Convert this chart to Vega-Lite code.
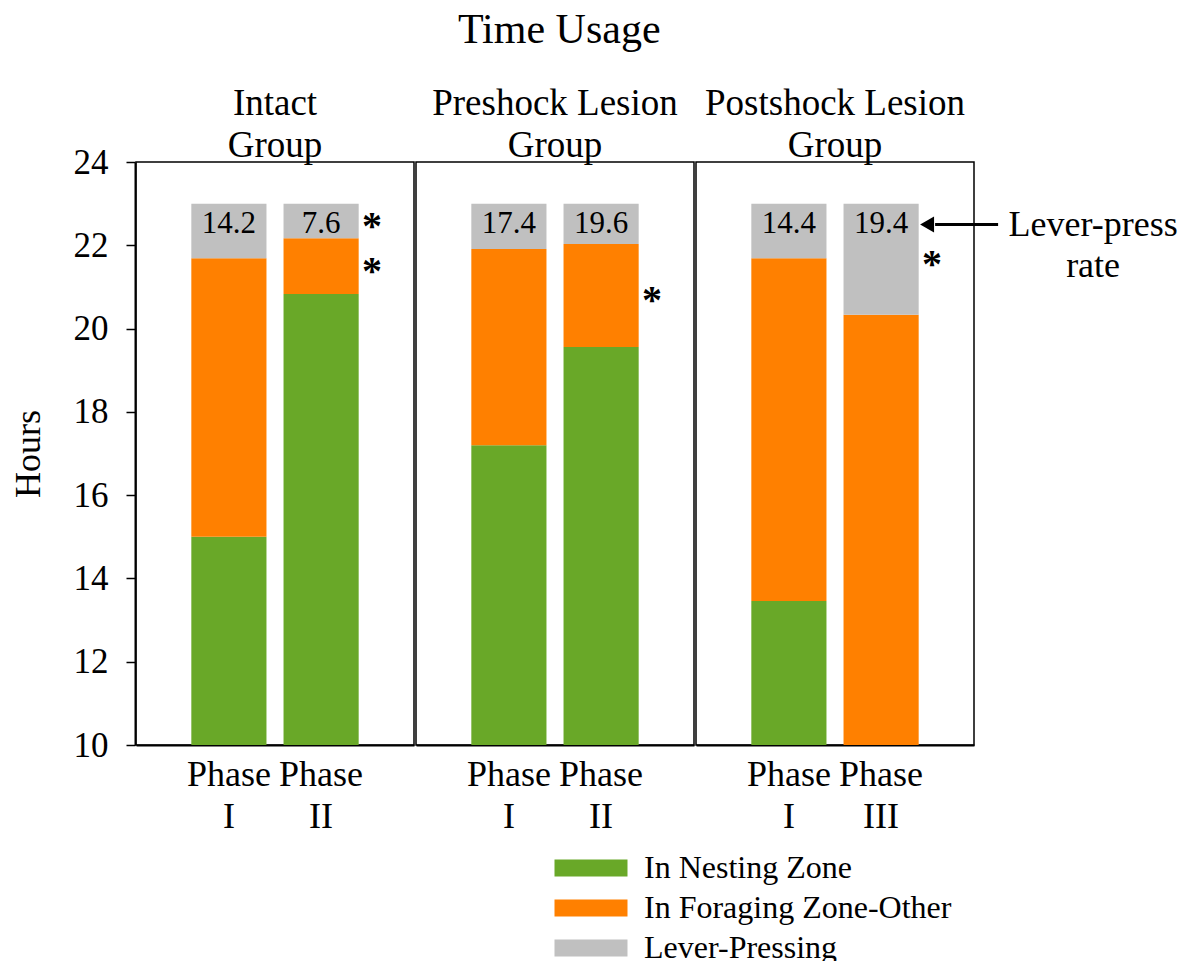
{
  "$schema": "https://vega.github.io/schema/vega-lite/v6.json",
  "padding": {"left": 10, "top": 9, "right": 2, "bottom": 0},
  "title": {
    "text": "Time Usage",
    "font": "Liberation Serif",
    "fontSize": 42,
    "fontWeight": "normal",
    "color": "black",
    "anchor": "middle",
    "offset": 33,
    "dx": -35
  },
  "data": {
    "values": [
      {"group": "Intact Group", "phase": "Phase I", "zone": "In Nesting Zone", "ord": 1, "hours": 15.0},
      {"group": "Intact Group", "phase": "Phase I", "zone": "In Foraging Zone-Other", "ord": 2, "hours": 6.69},
      {"group": "Intact Group", "phase": "Phase I", "zone": "Lever-Pressing", "ord": 3, "hours": 1.31, "rate": "14.2"},
      {"group": "Intact Group", "phase": "Phase II", "zone": "In Nesting Zone", "ord": 1, "hours": 20.83},
      {"group": "Intact Group", "phase": "Phase II", "zone": "In Foraging Zone-Other", "ord": 2, "hours": 1.34, "sig": "*"},
      {"group": "Intact Group", "phase": "Phase II", "zone": "Lever-Pressing", "ord": 3, "hours": 0.83, "rate": "7.6", "sig": "*"},
      {"group": "Preshock Lesion Group", "phase": "Phase I", "zone": "In Nesting Zone", "ord": 1, "hours": 17.2},
      {"group": "Preshock Lesion Group", "phase": "Phase I", "zone": "In Foraging Zone-Other", "ord": 2, "hours": 4.71},
      {"group": "Preshock Lesion Group", "phase": "Phase I", "zone": "Lever-Pressing", "ord": 3, "hours": 1.09, "rate": "17.4"},
      {"group": "Preshock Lesion Group", "phase": "Phase II", "zone": "In Nesting Zone", "ord": 1, "hours": 19.56},
      {"group": "Preshock Lesion Group", "phase": "Phase II", "zone": "In Foraging Zone-Other", "ord": 2, "hours": 2.47, "sig": "*"},
      {"group": "Preshock Lesion Group", "phase": "Phase II", "zone": "Lever-Pressing", "ord": 3, "hours": 0.97, "rate": "19.6"},
      {"group": "Postshock Lesion Group", "phase": "Phase I", "zone": "In Nesting Zone", "ord": 1, "hours": 13.46},
      {"group": "Postshock Lesion Group", "phase": "Phase I", "zone": "In Foraging Zone-Other", "ord": 2, "hours": 8.23},
      {"group": "Postshock Lesion Group", "phase": "Phase I", "zone": "Lever-Pressing", "ord": 3, "hours": 1.31, "rate": "14.4"},
      {"group": "Postshock Lesion Group", "phase": "Phase III", "zone": "In Nesting Zone", "ord": 1, "hours": 8.0},
      {"group": "Postshock Lesion Group", "phase": "Phase III", "zone": "In Foraging Zone-Other", "ord": 2, "hours": 12.33},
      {"group": "Postshock Lesion Group", "phase": "Phase III", "zone": "Lever-Pressing", "ord": 3, "hours": 2.67, "rate": "19.4", "sig": "*", "note": "Lever-press\nrate"}
    ]
  },
  "transform": [
    {"stack": "hours", "groupby": ["group", "phase"], "sort": [{"field": "ord"}], "as": ["lo", "hi"]},
    {"calculate": "(datum.lo + datum.hi) / 2", "as": "mid"}
  ],
  "facet": {
    "column": {
      "field": "group",
      "sort": ["Intact Group", "Preshock Lesion Group", "Postshock Lesion Group"],
      "title": null,
      "header": {
        "labelExpr": "[slice(datum.value, 0, -6), 'Group']",
        "labelFont": "Liberation Serif",
        "labelFontSize": 37,
        "labelLineHeight": 42,
        "labelColor": "black",
        "labelBaseline": "bottom",
        "labelPadding": -41
      }
    }
  },
  "spacing": 0,
  "resolve": {"scale": {"x": "independent"}},
  "spec": {
    "width": 278,
    "height": 583,
    "encoding": {
      "x": {
        "field": "phase",
        "type": "nominal",
        "scale": {"paddingInner": 0.185, "paddingOuter": 0.6},
        "axis": {
          "title": null,
          "labelAngle": 0,
          "labelExpr": "split(datum.value, ' ')",
          "labelFont": "Liberation Serif",
          "labelFontSize": 36,
          "labelLineHeight": 42,
          "labelColor": "black",
          "labelBaseline": "top",
          "labelPadding": 12,
          "ticks": false,
          "domainColor": "black",
          "domainWidth": 2
        }
      }
    },
    "layer": [
      {
        "mark": {"type": "bar", "clip": true},
        "encoding": {
          "y": {
            "field": "lo",
            "type": "quantitative",
            "scale": {"domain": [10, 24], "nice": false, "zero": false},
            "axis": {
              "title": "Hours",
              "titleFont": "Liberation Serif",
              "titleFontSize": 36,
              "titleFontWeight": "normal",
              "titleColor": "black",
              "titlePadding": 26,
              "values": [10, 12, 14, 16, 18, 20, 22, 24],
              "grid": false,
              "labelFont": "Liberation Serif",
              "labelFontSize": 35,
              "labelColor": "black",
              "labelPadding": 18,
              "tickSize": 9,
              "tickColor": "black",
              "tickWidth": 1.5,
              "domainColor": "black",
              "domainWidth": 2
            }
          },
          "y2": {"field": "hi"},
          "color": {
            "field": "zone",
            "type": "nominal",
            "scale": {
              "domain": ["In Nesting Zone", "In Foraging Zone-Other", "Lever-Pressing"],
              "range": ["#69a828", "#ff8000", "#c0c0c0"]
            },
            "legend": {
              "title": null,
              "orient": "none",
              "legendX": 439,
              "legendY": 690,
              "direction": "vertical",
              "symbolType": "M-4,-0.93H4V0.93H-4Z",
              "symbolSize": 333,
              "symbolStrokeWidth": 0,
              "labelFont": "Liberation Serif",
              "labelFontSize": 32,
              "labelColor": "black",
              "labelOffset": 37,
              "labelLimit": 0,
              "rowPadding": 8
            }
          }
        }
      },
      {
        "transform": [{"filter": "datum.rate"}],
        "mark": {"type": "text", "font": "Liberation Serif", "fontSize": 31, "color": "black", "baseline": "middle"},
        "encoding": {
          "y": {"datum": 22.5},
          "text": {"field": "rate"}
        }
      },
      {
        "transform": [{"filter": "datum.sig"}],
        "mark": {"type": "text", "font": "Liberation Serif", "fontSize": 40, "fontWeight": "bold", "color": "black", "baseline": "alphabetic", "dx": 51, "dy": 18},
        "encoding": {
          "y": {"field": "mid", "type": "quantitative"},
          "text": {"field": "sig"}
        }
      },
      {
        "transform": [{"filter": "datum.note"}],
        "mark": {"type": "rule", "color": "black", "strokeWidth": 3, "xOffset": 54, "x2Offset": 117},
        "encoding": {
          "y": {"datum": 22.5},
          "x2": {"field": "phase"}
        }
      },
      {
        "transform": [{"filter": "datum.note"}],
        "mark": {"type": "point", "shape": "triangle-left", "filled": true, "opacity": 1, "color": "black", "size": 260, "xOffset": 46},
        "encoding": {
          "y": {"datum": 22.5}
        }
      },
      {
        "transform": [{"filter": "datum.note"}],
        "mark": {"type": "text", "font": "Liberation Serif", "fontSize": 36, "color": "black", "align": "center", "baseline": "alphabetic", "lineBreak": "\n", "lineHeight": 41, "dx": 212, "dy": 12},
        "encoding": {
          "y": {"datum": 22.5},
          "text": {"field": "note"}
        }
      }
    ]
  },
  "config": {
    "view": {"stroke": "black", "strokeWidth": 1.5},
    "background": "white"
  }
}
